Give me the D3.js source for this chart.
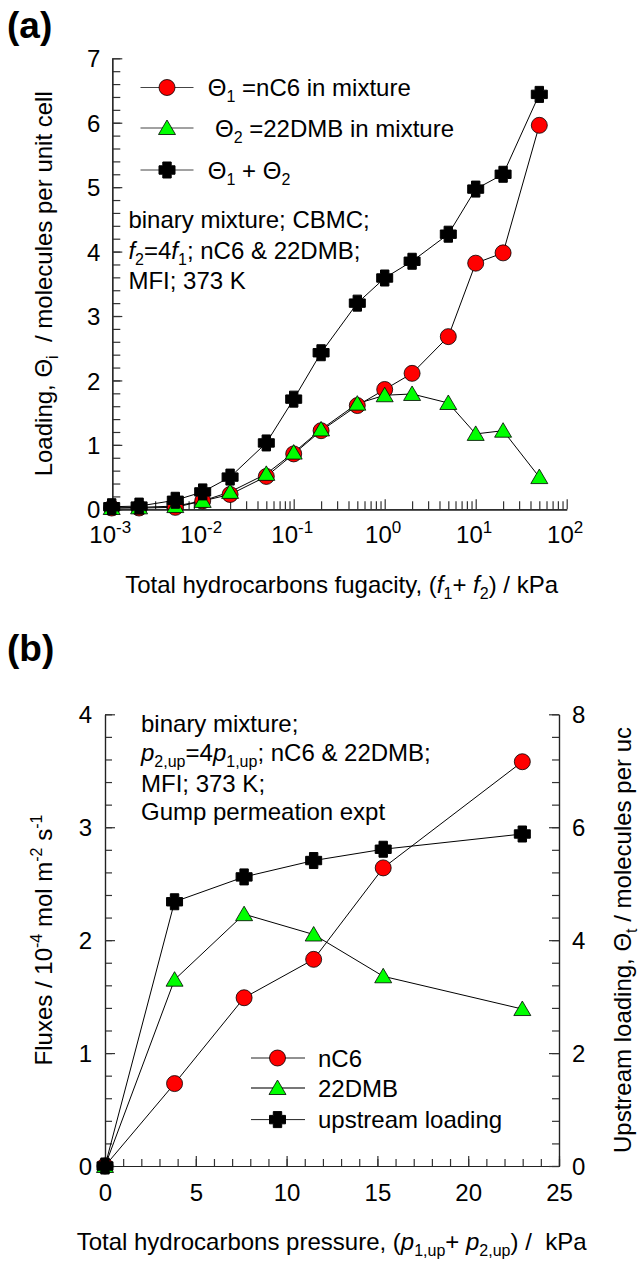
<!DOCTYPE html>
<html>
<head>
<meta charset="utf-8">
<script src="https://cdn.jsdelivr.net/npm/d3@7"></script>
<style>
  body { margin: 0; background: #fff; }
  text { white-space: pre; }
</style>
</head>
<body>
<div id="chart"></div>
<script>
// panel (a): CBMC loadings vs total fugacity
var fugacity = [0.001, 0.002, 0.005, 0.01, 0.02, 0.05, 0.1, 0.2, 0.5, 1, 2, 5, 10, 20, 50]
var thetaNC6 = [0.02, 0.02, 0.03, 0.13, 0.23, 0.51, 0.86, 1.22, 1.61, 1.86, 2.11, 2.68, 3.82, 3.98, 5.96]
var theta22DMB = [0.02, 0.03, 0.05, 0.13, 0.27, 0.55, 0.88, 1.24, 1.64, 1.77, 1.79, 1.65, 1.17, 1.22, 0.50]
var thetaTotal = [0.04, 0.05, 0.14, 0.27, 0.50, 1.03, 1.71, 2.43, 3.20, 3.59, 3.85, 4.27, 4.97, 5.20, 6.44]
var logTicks = [1e-3, 1e-2, 1e-1, 1e0, 1e1, 1e2]
var logExponents = ["-3", "-2", "-1", "0", "1", "2"]

// panel (b): Gump permeation experiment
var pressure = [0, 3.83, 7.66, 11.49, 15.32, 22.98]
var fluxNC6 = [0, 0.73, 1.49, 1.83, 2.64, 3.58]
var flux22DMB = [0, 1.65, 2.23, 2.05, 1.68, 1.39]
var upstreamLoading = [0, 4.68, 5.12, 5.41, 5.61, 5.88]

var FONT = '"Liberation Sans", Arial, Helvetica, sans-serif'

var svg = d3.select("#chart").append("svg")
	.attr("width", 640)
	.attr("height", 1262)
	.style("font-family", FONT)
	.style("font-size", "24px")

svg.append("rect").attr("width", 640).attr("height", 1262).attr("fill", "#fff")

// text with sub/superscripts and italics
function rich(sel, parts) {
	var shift = 0
	parts.forEach(function(p) {
		if (typeof p == "string") p = {t: p}
		var want = p.sub ? 6 : (p.sup ? -10 : 0)
		var ts = sel.append("tspan").text(p.t).attr("dy", want - shift)
		if (p.sub || p.sup) ts.attr("font-size", "16px")
		if (p.it) ts.attr("font-style", "italic")
		shift = want
	})
	return sel
}

function marker(g, type, x, y) {
	if (type == "circle") {
		g.append("circle").attr("cx", x).attr("cy", y).attr("r", 8)
			.attr("fill", "#ff0000").attr("stroke", "#000").attr("stroke-width", 0.8)
	} else if (type == "triangle") {
		g.append("path").attr("d", "M" + x + "," + (y - 8) + "L" + (x + 8.5) + "," + (y + 6.5) + "L" + (x - 8.5) + "," + (y + 6.5) + "Z")
			.attr("fill", "#00ff00").attr("stroke", "#000").attr("stroke-width", 0.8)
	} else {
		var a = 8, b = 4.2
		g.append("path")
			.attr("d", "M" + (x - b) + "," + (y - a) + "h" + 2 * b + "v" + (a - b) + "h" + (a - b) + "v" + 2 * b + "h" + (b - a) +
				"v" + (a - b) + "h" + (-2 * b) + "v" + (b - a) + "h" + (b - a) + "v" + (-2 * b) + "h" + (a - b) + "Z")
			.attr("fill", "#000").attr("stroke", "#000").attr("stroke-width", 1).attr("stroke-linejoin", "round")
	}
}

function series(g, xs, ys, xScale, yScale, type) {
	var line = d3.line().x(function(d, i) { return xScale(xs[i]) }).y(function(d) { return yScale(d) })
	g.append("path").datum(ys).attr("d", line).attr("fill", "none").attr("stroke", "#000").attr("stroke-width", 1)
	return function() {
		ys.forEach(function(v, i) { marker(g, type, xScale(xs[i]), yScale(v)) })
	}
}

function styleAxis(g) {
	g.select(".domain").attr("stroke", "#222").attr("stroke-width", 1.2)
	g.selectAll(".tick line").attr("stroke", "#333").attr("stroke-width", 1.2)
	g.selectAll(".tick text").attr("fill", "#000").style("font-size", "24px").style("font-family", FONT)
}

/* ---------------- panel (a) ---------------- */
var xA = d3.scaleLog().domain([1e-3, 1e2]).range([111.7, 566.7])
var yA = d3.scaleLinear().domain([0, 7]).range([509.3, 58.3])

svg.append("text").attr("x", 7).attr("y", 38).attr("font-weight", "bold").style("font-size", "37px").text("(a)")

var minorLog = []
for (var e = -3; e < 2; e++) for (var m = 2; m <= 9; m++) minorLog.push(m * Math.pow(10, e))

svg.append("g").attr("transform", "translate(0,509.3)")
	.call(d3.axisBottom(xA).tickValues(minorLog).tickSize(-8).tickSizeOuter(0).tickFormat(""))
	.call(styleAxis)

var axA = svg.append("g").attr("transform", "translate(0,509.3)")
	.call(d3.axisBottom(xA).tickValues(logTicks).tickSize(-10).tickSizeOuter(0).tickFormat(""))
	.call(styleAxis)
axA.selectAll(".tick text").each(function(d, i) {
	var t = d3.select(this).attr("y", 34).attr("dy", 0).attr("dx", -2)
	rich(t, ["10", {t: logExponents[i], sup: true}])
	t.selectAll("tspan").filter(function(p, j) { return j == 1 }).attr("font-size", "17px")
})

svg.append("g").attr("transform", "translate(112.3,0)")
	.call(d3.axisLeft(yA).tickValues(d3.range(0, 7.01, 0.2)).tickSize(-8).tickSizeOuter(0).tickFormat(""))
	.call(styleAxis)
svg.append("g").attr("transform", "translate(112.3,0)")
	.call(d3.axisLeft(yA).ticks(7).tickSize(-10).tickSizeOuter(0).tickPadding(12))
	.call(styleAxis)
	.selectAll(".tick text").attr("dy", "0.36em")

var gA = svg.append("g")
var drawRed = series(gA, fugacity, thetaNC6, xA, yA, "circle")
var drawGreen = series(gA, fugacity, theta22DMB, xA, yA, "triangle")
var drawBlack = series(gA, fugacity, thetaTotal, xA, yA, "cross")
drawRed(); drawGreen(); drawBlack()

// legend (a)
var legA = svg.append("g")
var legRowsA = [
	{y: 87.5, type: "circle", x: 207.8, parts: ["\u0398", {t: "1", sub: true}, " =nC6 in mixture"]},
	{y: 128, type: "triangle", x: 215, parts: ["\u0398", {t: "2", sub: true}, " =22DMB in mixture"]},
	{y: 170, type: "cross", x: 207.8, parts: ["\u0398", {t: "1", sub: true}, " + \u0398", {t: "2", sub: true}]}
]
legRowsA.forEach(function(r) {
	legA.append("line").attr("x1", 140.5).attr("x2", 193.5).attr("y1", r.y).attr("y2", r.y)
		.attr("stroke", "#444").attr("stroke-width", 1)
	marker(legA, r.type, 167, r.y)
	rich(legA.append("text").attr("x", r.x).attr("y", r.y + 8.5), r.parts)
})

var noteA = [
	["binary mixture; CBMC;"],
	[{t: "f", it: true}, {t: "2", sub: true}, "=4", {t: "f", it: true}, {t: "1", sub: true}, "; nC6 & 22DMB;"],
	["MFI; 373 K"]
]
var noteAY = [228, 258.5, 289]
noteA.forEach(function(parts, i) {
	rich(svg.append("text").attr("x", 128.4).attr("y", noteAY[i]), parts)
})

rich(svg.append("text").attr("text-anchor", "middle").attr("transform", "translate(52,283.8) rotate(-90)"),
	["Loading, \u0398", {t: "i", sub: true}, "  / molecules per unit cell"])

rich(svg.append("text").attr("text-anchor", "middle").attr("x", 341.6).attr("y", 593),
	["Total hydrocarbons fugacity, (", {t: "f", it: true}, {t: "1", sub: true}, "+ ", {t: "f", it: true}, {t: "2", sub: true}, ") / kPa"])

/* ---------------- panel (b) ---------------- */
var xB = d3.scaleLinear().domain([0, 25]).range([105, 559])
var yB = d3.scaleLinear().domain([0, 4]).range([1166, 714.3])
var yB2 = d3.scaleLinear().domain([0, 8]).range([1166, 714.3])

svg.append("text").attr("x", 7).attr("y", 661).attr("font-weight", "bold").style("font-size", "37px").text("(b)")

svg.append("g").attr("transform", "translate(0,1166)")
	.call(d3.axisBottom(xB).tickValues(d3.range(0, 25.01, 1)).tickSize(-7).tickSizeOuter(0).tickFormat(""))
	.call(styleAxis)
svg.append("g").attr("transform", "translate(0,1166)")
	.call(d3.axisBottom(xB).ticks(5).tickSize(-10).tickSizeOuter(0).tickFormat(d3.format("d")))
	.call(styleAxis)
	.selectAll(".tick text").attr("y", 35).attr("dy", 0)

svg.append("g").attr("transform", "translate(105,0)")
	.call(d3.axisLeft(yB).tickValues(d3.range(0, 4.01, 0.2)).tickSize(-7).tickSizeOuter(0).tickFormat(""))
	.call(styleAxis)
svg.append("g").attr("transform", "translate(105,0)")
	.call(d3.axisLeft(yB).ticks(4).tickSize(-10).tickSizeOuter(0).tickPadding(13))
	.call(styleAxis)
	.selectAll(".tick text").attr("dy", "0.36em")

svg.append("g").attr("transform", "translate(559,0)")
	.call(d3.axisRight(yB2).tickValues(d3.range(0, 8.01, 0.4)).tickSize(-7).tickSizeOuter(0).tickFormat(""))
	.call(styleAxis)
svg.append("g").attr("transform", "translate(559,0)")
	.call(d3.axisRight(yB2).tickValues([0, 2, 4, 6, 8]).tickSize(-10).tickSizeOuter(0).tickPadding(13))
	.call(styleAxis)
	.selectAll(".tick text").attr("dy", "0.36em")

var gB = svg.append("g")
var drawFluxA = series(gB, pressure, fluxNC6, xB, yB, "circle")
var drawFluxB = series(gB, pressure, flux22DMB, xB, yB, "triangle")
var drawLoad = series(gB, pressure, upstreamLoading, xB, yB2, "cross")
drawFluxA(); drawFluxB(); drawLoad()

// legend (b)
var legB = svg.append("g")
var legRowsB = [
	{y: 1058, type: "circle", text: "nC6", stroke: "#222", w: 1},
	{y: 1088, type: "triangle", text: "22DMB", stroke: "#777", w: 2},
	{y: 1119.6, type: "cross", text: "upstream loading", stroke: "#222", w: 1}
]
legRowsB.forEach(function(r) {
	legB.append("line").attr("x1", 251).attr("x2", 305).attr("y1", r.y).attr("y2", r.y)
		.attr("stroke", r.stroke).attr("stroke-width", r.w)
	marker(legB, r.type, 277.5, r.y)
	legB.append("text").attr("x", 318).attr("y", r.y + 8.5).text(r.text)
})

var noteB = [
	["binary mixture;"],
	[{t: "p", it: true}, {t: "2,up", sub: true}, "=4", {t: "p", it: true}, {t: "1,up", sub: true}, "; nC6 & 22DMB;"],
	["MFI; 373 K;"],
	["Gump permeation expt"]
]
var noteBY = [732, 761.4, 791.6, 820]
noteB.forEach(function(parts, i) {
	rich(svg.append("text").attr("x", 141).attr("y", noteBY[i]), parts)
})

rich(svg.append("text").attr("text-anchor", "middle").attr("transform", "translate(52,940) rotate(-90)"),
	["Fluxes / 10", {t: "-4", sup: true}, " mol m", {t: "-2", sup: true}, " s", {t: "-1", sup: true}])

rich(svg.append("text").attr("text-anchor", "middle").attr("transform", "translate(631,940) rotate(-90)"),
	["Upstream loading, \u0398", {t: "t", sub: true}, " / molecules per uc"])

rich(svg.append("text").attr("text-anchor", "middle").attr("x", 331.6).attr("y", 1250),
	["Total hydrocarbons pressure, (", {t: "p", it: true}, {t: "1,up", sub: true}, "+ ", {t: "p", it: true}, {t: "2,up", sub: true}, ") /  kPa"])
</script>
</body>
</html>
